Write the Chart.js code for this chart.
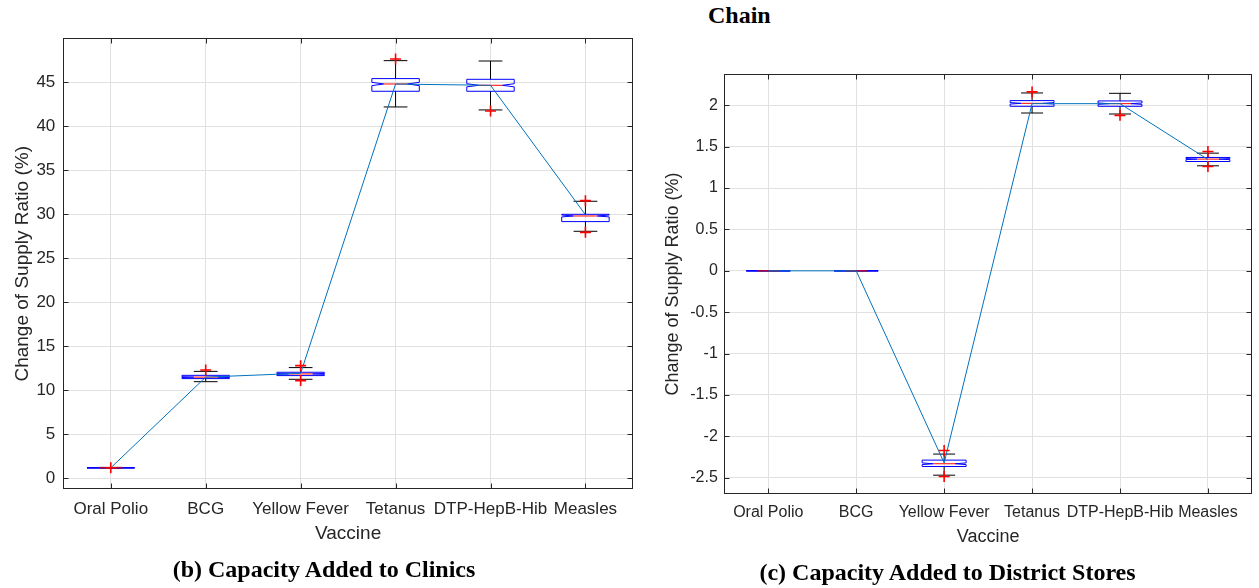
<!DOCTYPE html>
<html>
<head>
<meta charset="utf-8">
<script src="https://cdn.jsdelivr.net/npm/chart.js@4.4.1/dist/chart.umd.min.js"></script>
<style>
  html, body { margin: 0; padding: 0; background: #fff; }
  body { width: 1259px; height: 588px; position: relative; overflow: hidden; }
  .panel { position: absolute; top: 0; height: 588px; }
  .cap { position: absolute; font-family: "Liberation Serif", "Times New Roman", serif; font-weight: bold;
         font-size: 24px; line-height: 24px; color: #000; white-space: nowrap; }
</style>
</head>
<body>
<div class="cap" style="left:708px; top:2.6px;">Chain</div>
<div class="panel" style="left:0; width:640px;"><canvas id="clinics" width="640" height="588"></canvas></div>
<div class="panel" style="left:640px; width:619px;"><canvas id="district" width="619" height="588"></canvas></div>
<div class="cap" style="left:324px; top:556.6px; transform:translateX(-50%);">(b) Capacity Added to Clinics</div>
<div class="cap" style="left:947.5px; top:559.9px; transform:translateX(-50%);">(c) Capacity Added to District Stores</div>

<script>
var vaccines = ['Oral Polio', 'BCG', 'Yellow Fever', 'Tetanus', 'DTP-HepB-Hib', 'Measles'];
var sampleSize = 144; // runs per vaccine, used for the notch size

// (b) Capacity added to clinics
var clinicsLow = [1.15, 10.98, 11.25, 42.2, 41.86, 28.07];
var clinicsQ1 = [1.17, 11.33, 11.67, 43.98, 43.98, 29.17];
var clinicsMedian = [1.19, 11.5, 11.86, 44.81, 44.66, 29.81];
var clinicsQ3 = [1.21, 11.7, 12.05, 45.42, 45.34, 30.0];
var clinicsHigh = [1.24, 12.15, 12.58, 47.46, 47.42, 31.48];
var clinicsMean = [1.19, 11.5, 11.93, 44.8, 44.66, 29.95];
var clinicsOutliers = [[1.2], [12.3], [12.8, 11.1], [47.65], [41.74], [31.55, 27.95]];
var clinicsTicks = [0, 5, 10, 15, 20, 25, 30, 35, 40, 45];

// (c) Capacity added to district stores
var districtLow = [0, 0, -2.469, 1.907, 1.895, 1.269];
var districtQ1 = [0, 0, -2.364, 1.988, 1.988, 1.321];
var districtMedian = [0, 0, -2.331, 2.024, 2.02, 1.35];
var districtQ3 = [0, 0, -2.287, 2.057, 2.053, 1.37];
var districtHigh = [0, 0, -2.214, 2.149, 2.145, 1.422];
var districtMean = [0, 0, -2.32, 2.02, 2.02, 1.345];
var districtOutliers = [[], [], [-2.17, -2.485], [2.162], [1.879], [1.442, 1.26]];
var districtTicks = [-2.5, -2, -1.5, -1, -0.5, 0, 0.5, 1, 1.5, 2];

var categoryTicks = [1, 2, 3, 4, 5, 6];
var axisColor = '#262626';

// draws the notched boxes under the datasets, and the frame with inward ticks on top
var boxPlugin = {
    id: 'boxes',
    beforeDatasetsDraw: function(chart, args, opts) {
        var ctx = chart.ctx, x = chart.scales.x, y = chart.scales.y;
        var half = x.getPixelForValue(1.25) - x.getPixelForValue(1);
        function seg(x1, y1, x2, y2) {
            ctx.beginPath(); ctx.moveTo(x1, y1); ctx.lineTo(x2, y2); ctx.stroke();
        }
        ctx.save();
        ctx.lineWidth = 1;
        for (var i = 0; i < opts.median.length; i++) {
            var cx = x.getPixelForValue(i + 1);
            var q1 = y.getPixelForValue(opts.q1[i]);
            var q3 = y.getPixelForValue(opts.q3[i]);
            var med = y.getPixelForValue(opts.median[i]);
            var lo = y.getPixelForValue(opts.low[i]);
            var hi = y.getPixelForValue(opts.high[i]);
            var notch = 1.57 * (opts.q3[i] - opts.q1[i]) / Math.sqrt(sampleSize);
            var nLo = y.getPixelForValue(opts.median[i] - notch);
            var nHi = y.getPixelForValue(opts.median[i] + notch);

            // whiskers and caps
            ctx.strokeStyle = '#000';
            seg(cx, q3, cx, hi);
            seg(cx, q1, cx, lo);
            seg(cx - half / 2, hi, cx + half / 2, hi);
            seg(cx - half / 2, lo, cx + half / 2, lo);

            // notched box
            ctx.strokeStyle = '#0000ff';
            ctx.beginPath();
            ctx.moveTo(cx - half, q1);
            ctx.lineTo(cx - half, nLo);
            ctx.lineTo(cx - half / 2, med);
            ctx.lineTo(cx - half, nHi);
            ctx.lineTo(cx - half, q3);
            ctx.lineTo(cx + half, q3);
            ctx.lineTo(cx + half, nHi);
            ctx.lineTo(cx + half / 2, med);
            ctx.lineTo(cx + half, nLo);
            ctx.lineTo(cx + half, q1);
            ctx.closePath();
            ctx.stroke();

            // median
            ctx.strokeStyle = '#ff0000';
            seg(cx - half / 2, med, cx + half / 2, med);
        }
        ctx.restore();
    },
    afterDraw: function(chart) {
        var ctx = chart.ctx, a = chart.chartArea, x = chart.scales.x, y = chart.scales.y;
        var l = Math.round(a.left) + 0.5, r = Math.round(a.right) - 0.5;
        var t = Math.round(a.top) + 0.5, b = Math.round(a.bottom) - 0.5;
        ctx.save();
        ctx.strokeStyle = axisColor;
        ctx.lineWidth = 1;
        ctx.strokeRect(l, t, r - l, b - t);
        ctx.beginPath();
        x.ticks.forEach(function(tk) {
            var px = Math.round(x.getPixelForValue(tk.value)) + 0.5;
            ctx.moveTo(px, b); ctx.lineTo(px, b - 5);
            ctx.moveTo(px, t); ctx.lineTo(px, t + 5);
        });
        y.ticks.forEach(function(tk) {
            var py = Math.round(y.getPixelForValue(tk.value)) + 0.5;
            ctx.moveTo(l, py); ctx.lineTo(l + 5, py);
            ctx.moveTo(r, py); ctx.lineTo(r - 5, py);
        });
        ctx.stroke();
        ctx.restore();
    }
};

function makeBoxChart(id, s) {
    var outlierPoints = [];
    s.outliers.forEach(function(list, i) {
        list.forEach(function(v) { outlierPoints.push({ x: i + 1, y: v }); });
    });
    var meanPoints = s.mean.map(function(v, i) { return { x: i + 1, y: v }; });
    var font = { family: 'Liberation Sans', size: s.fontSize };
    var titleFont = { family: 'Liberation Sans', size: s.titleSize };

    return new Chart(document.getElementById(id).getContext('2d'), {
        type: 'scatter',
        data: {
            datasets: [{
                data: outlierPoints,
                pointStyle: 'cross',
                pointRadius: 5.5,
                borderColor: '#ff0000',
                backgroundColor: '#ff0000',
                borderWidth: 1.6,
                showLine: false
            }, {
                data: meanPoints,
                showLine: true,
                borderColor: '#0072BD',
                borderWidth: 1,
                pointRadius: 0
            }]
        },
        plugins: [boxPlugin],
        options: {
            responsive: false,
            devicePixelRatio: 1,
            animation: false,
            layout: { padding: s.padding },
            plugins: {
                legend: { display: false },
                tooltip: { enabled: false },
                boxes: { low: s.low, q1: s.q1, median: s.median, q3: s.q3, high: s.high }
            },
            scales: {
                x: {
                    type: 'linear',
                    min: 0.5,
                    max: 6.5,
                    afterBuildTicks: function(scale) {
                        scale.ticks = categoryTicks.map(function(v) { return { value: v }; });
                    },
                    afterFit: function(scale) { scale.height = s.xAxisHeight; },
                    grid: { color: '#e1e1e1', drawTicks: false },
                    border: { display: false },
                    ticks: {
                        padding: s.xTickPad,
                        color: axisColor,
                        font: font,
                        maxRotation: 0,
                        autoSkip: false,
                        callback: function(v) { return vaccines[v - 1]; }
                    },
                    title: { display: true, text: 'Vaccine', color: axisColor, font: titleFont, padding: 0 }
                },
                y: {
                    min: s.yMin,
                    max: s.yMax,
                    afterBuildTicks: function(scale) {
                        scale.ticks = s.yTicks.map(function(v) { return { value: v }; });
                    },
                    afterFit: function(scale) { scale.width = s.yAxisWidth; },
                    grid: { color: '#e1e1e1', drawTicks: false },
                    border: { display: false },
                    ticks: {
                        padding: s.yTickPad,
                        color: axisColor,
                        font: font,
                        callback: function(v) { return String(v); }
                    },
                    title: { display: true, text: 'Change of Supply Ratio (%)', color: axisColor, font: titleFont, padding: 0 }
                }
            }
        }
    });
}

makeBoxChart('clinics', {
    low: clinicsLow, q1: clinicsQ1, median: clinicsMedian, q3: clinicsQ3, high: clinicsHigh,
    mean: clinicsMean, outliers: clinicsOutliers, yTicks: clinicsTicks,
    yMin: -1.25, yMax: 50,
    fontSize: 17, titleSize: 19,
    padding: { left: 11.1, top: 38.3, right: 5.5, bottom: 43.3 },
    yAxisWidth: 52.2, xAxisHeight: 55.4, xTickPad: 9.8, yTickPad: 8
});

makeBoxChart('district', {
    low: districtLow, q1: districtQ1, median: districtMedian, q3: districtQ3, high: districtHigh,
    mean: districtMean, outliers: districtOutliers, yTicks: districtTicks,
    yMin: -2.70, yMax: 2.382,
    fontSize: 16, titleSize: 18,
    padding: { left: 22.2, top: 73.7, right: 2.7, bottom: 39.9 },
    yAxisWidth: 62.1, xAxisHeight: 53.8, xTickPad: 8.8, yTickPad: 6.5
});
</script>
</body>
</html>
